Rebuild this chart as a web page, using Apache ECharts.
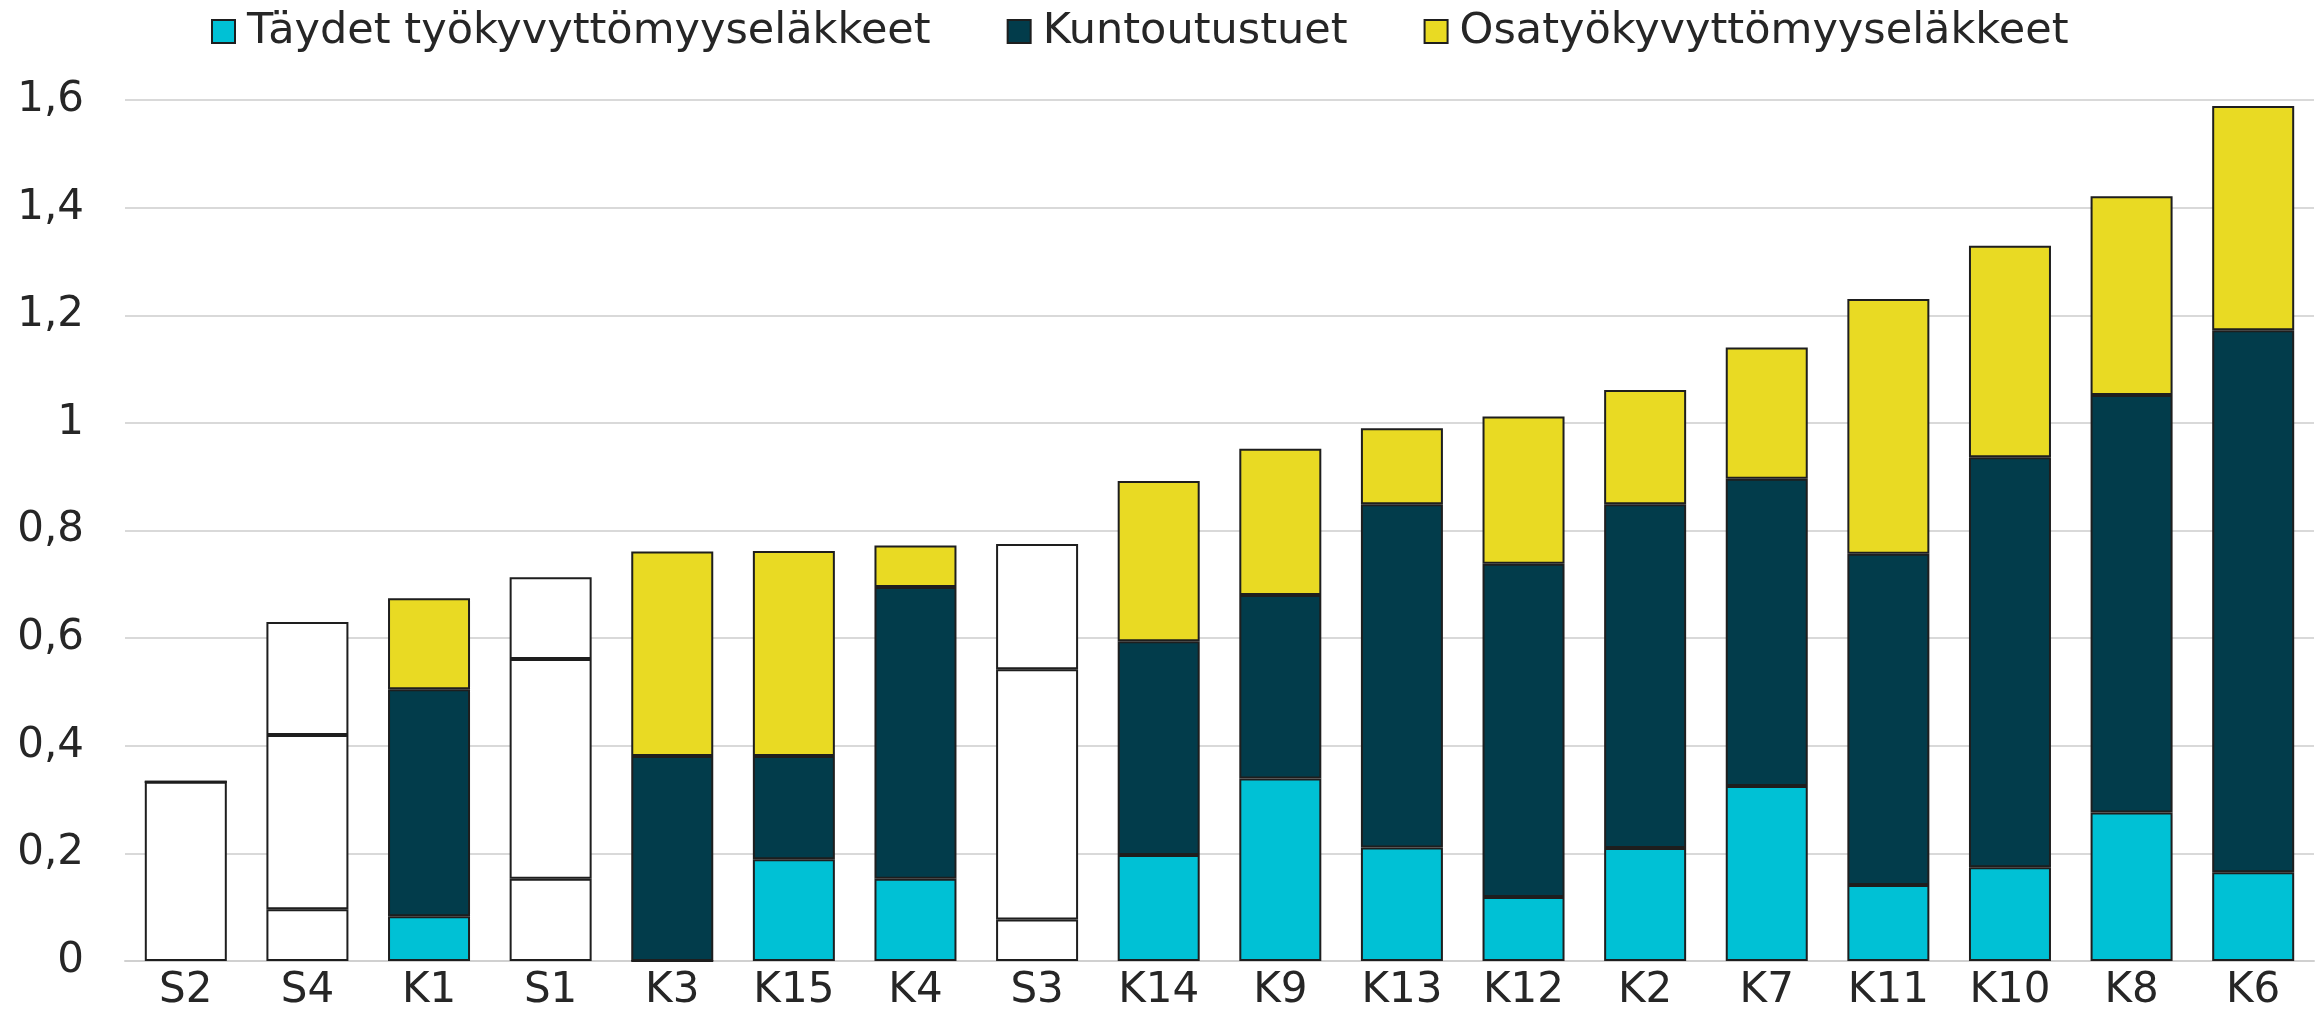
<!DOCTYPE html>
<html>
<head>
<meta charset="utf-8">
<script src="https://cdn.jsdelivr.net/npm/echarts@6/dist/echarts.min.js"></script>
<style>
  html, body { margin: 0; padding: 0; background: #ffffff; }
  #chart { width: 2323px; height: 1028px; }
</style>
</head>
<body>
<div id="chart"></div>
<script>
const categories = ['S2','S4','K1','S1','K3','K15','K4','S3','K14','K9','K13','K12','K2','K7','K11','K10','K8','K6'];
const seriesNames = ['Täydet työkyvyttömyyseläkkeet', 'Kuntoutustuet', 'Osatyökyvyttömyyseläkkeet'];
const taydet     = [0.333, 0.096, 0.083, 0.153, 0.000, 0.189, 0.153, 0.077, 0.197, 0.339, 0.211, 0.119, 0.210, 0.325, 0.141, 0.174, 0.276, 0.165];
const kuntoutus  = [0.000, 0.324, 0.422, 0.408, 0.381, 0.192, 0.542, 0.465, 0.397, 0.341, 0.638, 0.619, 0.639, 0.571, 0.616, 0.762, 0.776, 1.007];
const osatyo     = [0.000, 0.210, 0.169, 0.152, 0.380, 0.381, 0.077, 0.233, 0.298, 0.272, 0.141, 0.274, 0.212, 0.244, 0.473, 0.393, 0.369, 0.417];
const hollowCategories = ['S2','S4','S1','S3'];
const yTicks = { min: 0, max: 1.6, interval: 0.2 };

const colors = ['#00C1D5', '#023C4B', '#E9DA23'];
const font = 'DejaVu Sans, Verdana, sans-serif';

function toData(arr) {
  return arr.map((v, i) => {
    if (hollowCategories.includes(categories[i])) {
      return { value: v, itemStyle: { color: '#ffffff' } };
    }
    return v;
  });
}

const valueArrays = [taydet, kuntoutus, osatyo];
const series = seriesNames.map((name, k) => ({
  name: name,
  type: 'bar',
  stack: 'total',
  barWidth: 82,
  data: toData(valueArrays[k]),
  itemStyle: { color: colors[k], borderColor: '#1e1e1e', borderWidth: 2 },
  emphasis: { disabled: true }
}));

const chart = echarts.init(document.getElementById('chart'), null, { renderer: 'canvas' });
chart.setOption({
  animation: false,
  backgroundColor: '#ffffff',
  legend: {
    top: 5,
    left: 206,
    itemWidth: 23,
    itemHeight: 23,
    itemGap: 76,
    icon: 'rect',
    textStyle: { fontFamily: font, fontSize: 43, color: '#262626', padding: [0, 0, 0, 7] },
    data: seriesNames
  },
  grid: { left: 125, right: 9, top: 100, bottom: 67 },
  xAxis: {
    type: 'category',
    data: categories,
    axisTick: { show: false },
    axisLine: { show: true, lineStyle: { color: '#d0d0d0', width: 2 } },
    axisLabel: { fontFamily: font, fontSize: 42, color: '#262626', margin: 9 }
  },
  yAxis: {
    type: 'value',
    min: yTicks.min,
    max: yTicks.max,
    interval: yTicks.interval,
    axisLine: { show: false },
    axisTick: { show: false },
    splitLine: { lineStyle: { color: '#d9d9d9', width: 2 } },
    axisLabel: {
      fontFamily: font, fontSize: 42, color: '#262626', margin: 41,
      formatter: v => String(Math.round(v * 10) / 10).replace('.', ',')
    }
  },
  series: series
});
</script>
</body>
</html>
